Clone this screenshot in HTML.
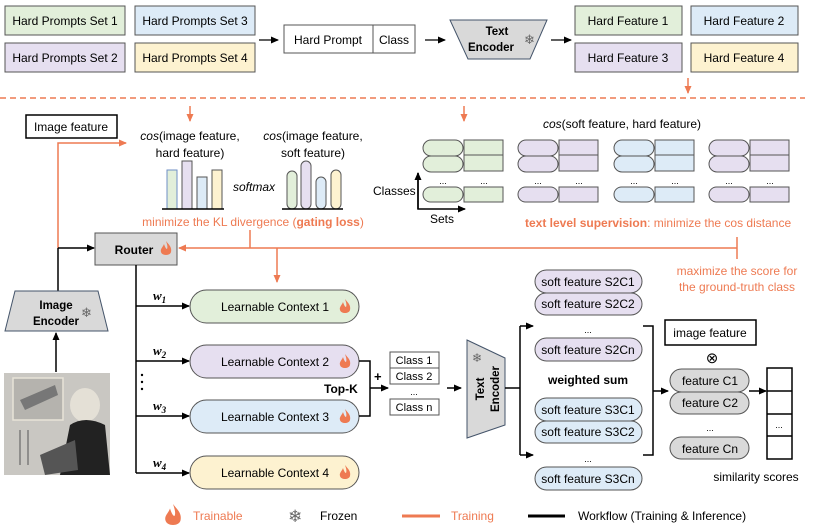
<!DOCTYPE html>
<html><head><meta charset="utf-8"><style>
html,body{margin:0;padding:0;background:#fff;}
svg{display:block;font-family:"Liberation Sans",sans-serif;}
</style></head><body>
<svg width="831" height="532" viewBox="0 0 831 532" xmlns="http://www.w3.org/2000/svg">
<defs>
<marker id="ab" markerWidth="8" markerHeight="8" refX="7" refY="4" orient="auto" markerUnits="userSpaceOnUse"><path d="M0,0.5 L8,4 L0,7.5z" fill="#000"/></marker>
<marker id="ao" markerWidth="8" markerHeight="8" refX="7" refY="4" orient="auto" markerUnits="userSpaceOnUse"><path d="M0,0.5 L8,4 L0,7.5z" fill="#ee7a52"/></marker>
<g id="fl"><path d="M0,-8 C3,-4 6,-2 5,3 C4,7 -4,7 -5,3 C-6,0 -3,-2 -2,-5 C-1,-2 0,0 1,0 C2,-2 1,-5 0,-8z" fill="#ee7a52"/></g>
</defs>
<g font-size="12" fill="#000">
<!-- top hard prompt sets -->
<g stroke="#555" stroke-width="1">
<rect x="5" y="6" width="120" height="29" fill="#e2efda"/>
<rect x="135" y="6" width="120" height="29" fill="#ddebf7"/>
<rect x="5" y="43" width="120" height="29" fill="#e6dff0"/>
<rect x="135" y="43" width="120" height="29" fill="#fdf2d0"/>
<rect x="575" y="6" width="107" height="29" fill="#e2efda"/>
<rect x="691" y="6" width="107" height="29" fill="#ddebf7"/>
<rect x="575" y="43" width="107" height="29" fill="#e6dff0"/>
<rect x="691" y="43" width="107" height="29" fill="#fdf2d0"/>
<rect x="284" y="25" width="131" height="28" fill="#fff"/>
<line x1="373" y1="25" x2="373" y2="53"/>
</g>
<text x="65" y="25" text-anchor="middle">Hard Prompts Set 1</text>
<text x="195" y="25" text-anchor="middle">Hard Prompts Set 3</text>
<text x="65" y="62" text-anchor="middle">Hard Prompts Set 2</text>
<text x="195" y="62" text-anchor="middle">Hard Prompts  Set 4</text>
<text x="628" y="25" text-anchor="middle">Hard Feature 1</text>
<text x="744" y="25" text-anchor="middle">Hard Feature 2</text>
<text x="628" y="62" text-anchor="middle">Hard Feature 3</text>
<text x="744" y="62" text-anchor="middle">Hard Feature 4</text>
<text x="328" y="44" text-anchor="middle">Hard Prompt</text>
<text x="394" y="44" text-anchor="middle">Class</text>
<g stroke="#000" stroke-width="1.3">
<line x1="259" y1="40" x2="278" y2="40" marker-end="url(#ab)"/>
<line x1="425" y1="40" x2="445" y2="40" marker-end="url(#ab)"/>
<line x1="551" y1="40" x2="571" y2="40" marker-end="url(#ab)"/>
</g>
<path d="M450,20 L547,20 L530,59 L468,59z" fill="#d9d9d9" stroke="#44546a"/>
<text x="497" y="35" text-anchor="middle" font-weight="bold" font-size="11.5">Text</text>
<text x="491" y="51" text-anchor="middle" font-weight="bold" font-size="11.5">Encoder</text>
<text x="524" y="44" font-size="13" fill="#666">❄</text>
<!-- dashed -->
<line x1="688" y1="78" x2="688" y2="93" stroke="#ee7a52" stroke-width="1.5" marker-end="url(#ao)"/>
<line x1="0" y1="98" x2="805" y2="98" stroke="#ee7a52" stroke-width="1.5" stroke-dasharray="6,4"/>
<line x1="190" y1="106" x2="190" y2="121" stroke="#ee7a52" stroke-width="1.5" marker-end="url(#ao)"/>
<line x1="464" y1="106" x2="464" y2="121" stroke="#ee7a52" stroke-width="1.5" marker-end="url(#ao)"/>
<!-- image feature -->
<rect x="26" y="115" width="91" height="23" fill="#fff" stroke="#000" stroke-width="1.5"/>
<text x="71" y="131" text-anchor="middle">Image feature</text>
<polyline points="58,248 58,143 126,143" fill="none" stroke="#ee7a52" stroke-width="1.5" marker-end="url(#ao)"/>
<text x="190" y="140" text-anchor="middle"><tspan font-style="italic">cos</tspan>(image feature,</text>
<text x="190" y="157" text-anchor="middle">hard feature)</text>
<text x="313" y="140" text-anchor="middle"><tspan font-style="italic">cos</tspan>(image feature,</text>
<text x="313" y="157" text-anchor="middle">soft feature)</text>
<g stroke-width="1">
<rect x="167" y="170" width="10" height="39" fill="#e2efda" stroke="#6f8fc6"/>
<rect x="182" y="161" width="10" height="48" fill="#e6dff0" stroke="#555"/>
<rect x="197" y="177" width="10" height="32" fill="#ddebf7" stroke="#555"/>
<rect x="212" y="170" width="10" height="39" fill="#fdf2d0" stroke="#555"/>
<rect x="287" y="171" width="10" height="38" rx="5" fill="#e2efda" stroke="#555"/>
<rect x="301" y="161" width="10" height="48" rx="5" fill="#e6dff0" stroke="#555"/>
<rect x="316" y="177" width="10" height="32" rx="5" fill="#ddebf7" stroke="#555"/>
<rect x="331" y="170" width="10" height="39" rx="5" fill="#fdf2d0" stroke="#555"/>
</g>
<line x1="162" y1="209" x2="224" y2="209" stroke="#000" stroke-width="1.5"/>
<line x1="282" y1="209" x2="343" y2="209" stroke="#000" stroke-width="1.5"/>
<text x="254" y="191" text-anchor="middle" font-style="italic">softmax</text>
<text x="253" y="226" text-anchor="middle" fill="#ee7a52">minimize the KL divergence (<tspan font-weight="bold">gating loss</tspan>)</text>
<!-- text level -->
<text x="622" y="128" text-anchor="middle"><tspan font-style="italic">cos</tspan>(soft feature, hard feature)</text>
<g stroke="#555" stroke-width="1">
<g>
<rect x="423" y="140" width="40" height="16" rx="8" fill="#e2efda"/><rect x="423" y="156" width="40" height="16" rx="8" fill="#e2efda"/>
<rect x="464" y="140" width="39" height="31" fill="#e2efda"/><line x1="464" y1="155" x2="503" y2="155"/>
<rect x="423" y="187" width="40" height="15" rx="7.5" fill="#e2efda"/><rect x="464" y="187" width="39" height="15" fill="#e2efda"/>
</g>
<g transform="translate(95,0)">
<rect x="423" y="140" width="40" height="16" rx="8" fill="#e6dff0"/><rect x="423" y="156" width="40" height="16" rx="8" fill="#e6dff0"/>
<rect x="464" y="140" width="39" height="31" fill="#e6dff0"/><line x1="464" y1="155" x2="503" y2="155"/>
<rect x="423" y="187" width="40" height="15" rx="7.5" fill="#e6dff0"/><rect x="464" y="187" width="39" height="15" fill="#e6dff0"/>
</g>
<g transform="translate(191,0)">
<rect x="423" y="140" width="40" height="16" rx="8" fill="#ddebf7"/><rect x="423" y="156" width="40" height="16" rx="8" fill="#ddebf7"/>
<rect x="464" y="140" width="39" height="31" fill="#ddebf7"/><line x1="464" y1="155" x2="503" y2="155"/>
<rect x="423" y="187" width="40" height="15" rx="7.5" fill="#ddebf7"/><rect x="464" y="187" width="39" height="15" fill="#ddebf7"/>
</g>
<g transform="translate(286,0)">
<rect x="423" y="140" width="40" height="16" rx="8" fill="#e6dff0"/><rect x="423" y="156" width="40" height="16" rx="8" fill="#e6dff0"/>
<rect x="464" y="140" width="39" height="31" fill="#e6dff0"/><line x1="464" y1="155" x2="503" y2="155"/>
<rect x="423" y="187" width="40" height="15" rx="7.5" fill="#e6dff0"/><rect x="464" y="187" width="39" height="15" fill="#e6dff0"/>
</g>
</g>
<g font-size="9" text-anchor="middle">
<text x="443" y="184">...</text><text x="484" y="184">...</text>
<text x="538" y="184">...</text><text x="579" y="184">...</text>
<text x="634" y="184">...</text><text x="675" y="184">...</text>
<text x="729" y="184">...</text><text x="770" y="184">...</text>
</g>
<polyline points="418,173 418,209 465,209" fill="none" stroke="#000" stroke-width="1.5" marker-end="url(#ab)"/>
<line x1="418" y1="209" x2="418" y2="173" stroke="#000" stroke-width="1.5" marker-end="url(#ab)"/>
<text x="373" y="195">Classes</text>
<text x="430" y="223">Sets</text>
<text x="525" y="227" fill="#ee7a52"><tspan font-weight="bold">text level supervision</tspan>: minimize the cos distance</text>
<!-- router -->
<rect x="95" y="233" width="82" height="32" fill="#d9d9d9" stroke="#555"/>
<text x="134" y="254" text-anchor="middle" font-weight="bold">Router</text>
<use href="#fl" x="166" y="249"/>
<line x1="58" y1="248" x2="58" y2="291" stroke="#000" stroke-width="1.5"/>
<line x1="58" y1="248" x2="94" y2="248" stroke="#000" stroke-width="1.5" marker-end="url(#ab)"/>
<line x1="737" y1="248" x2="179" y2="248" stroke="#ee7a52" stroke-width="1.5" marker-end="url(#ao)"/>
<line x1="737" y1="237" x2="737" y2="259" stroke="#ee7a52" stroke-width="1.5"/>
<line x1="250" y1="230" x2="250" y2="248" stroke="#ee7a52" stroke-width="1.5"/>
<line x1="277" y1="248" x2="277" y2="282" stroke="#ee7a52" stroke-width="1.5" marker-end="url(#ao)"/>
<text x="737" y="275" text-anchor="middle" fill="#ee7a52">maximize the score for</text>
<text x="737" y="291" text-anchor="middle" fill="#ee7a52">the ground-truth class</text>
<!-- router branches -->
<g stroke="#000" stroke-width="1.5" fill="none">
<line x1="136" y1="265" x2="136" y2="473"/>
<line x1="136" y1="306" x2="189" y2="306" marker-end="url(#ab)"/>
<line x1="136" y1="361" x2="189" y2="361" marker-end="url(#ab)"/>
<line x1="136" y1="416" x2="189" y2="416" marker-end="url(#ab)"/>
<line x1="136" y1="473" x2="189" y2="473" marker-end="url(#ab)"/>
</g>
<g font-family="Liberation Serif,serif" font-weight="bold" font-style="italic" font-size="13">
<text x="153" y="300">w<tspan font-size="9" dy="3">1</tspan></text>
<text x="153" y="355">w<tspan font-size="9" dy="3">2</tspan></text>
<text x="153" y="410">w<tspan font-size="9" dy="3">3</tspan></text>
<text x="153" y="467">w<tspan font-size="9" dy="3">4</tspan></text>
</g>
<circle cx="142" cy="375" r="1.2"/><circle cx="142" cy="382" r="1.2"/><circle cx="142" cy="389" r="1.2"/>
<g stroke="#555">
<rect x="190" y="290" width="169" height="33" rx="16.5" fill="#e2efda"/>
<rect x="190" y="345" width="169" height="33" rx="16.5" fill="#e6dff0"/>
<rect x="190" y="400" width="169" height="33" rx="16.5" fill="#ddebf7"/>
<rect x="190" y="456" width="169" height="33" rx="16.5" fill="#fdf2d0"/>
</g>
<text x="275" y="311" text-anchor="middle">Learnable Context 1</text>
<text x="275" y="366" text-anchor="middle">Learnable Context 2</text>
<text x="275" y="421" text-anchor="middle">Learnable Context 3</text>
<text x="275" y="477" text-anchor="middle">Learnable Context 4</text>
<use href="#fl" x="345" y="307"/><use href="#fl" x="345" y="362"/><use href="#fl" x="345" y="417"/><use href="#fl" x="345" y="473"/>
<!-- image encoder -->
<path d="M15,291 L98,291 L108,331 L5,331z" fill="#d9d9d9" stroke="#44546a"/>
<text x="56" y="309" text-anchor="middle" font-weight="bold" font-size="11.5">Image</text>
<text x="56" y="325" text-anchor="middle" font-weight="bold" font-size="11.5">Encoder</text>
<text x="81" y="317" font-size="13" fill="#666">❄</text>
<line x1="56" y1="372" x2="56" y2="333" stroke="#000" stroke-width="1.5" marker-end="url(#ab)"/>
<!-- photo -->
<rect x="4" y="373" width="106" height="102" fill="#c9c7c2"/>
<rect x="13" y="378" width="50" height="42" fill="#b5b3ae" stroke="#e8e4d8" stroke-width="1.5"/>
<path d="M20,400 L55,385 L58,395 L25,410z" fill="#777"/>
<ellipse cx="85" cy="405" rx="15" ry="17" fill="#e4e0d6"/>
<path d="M70,425 Q85,415 105,425 L110,475 L60,475z" fill="#222"/>
<path d="M40,455 L75,440 L78,470 L45,475z" fill="#555"/>
<line x1="20" y1="430" x2="20" y2="465" stroke="#555"/><line x1="28" y1="430" x2="28" y2="465" stroke="#555"/>
<!-- top-k -->
<polyline points="359,361 370,361 370,416 359,416" fill="none" stroke="#000" stroke-width="1.5"/>
<line x1="370" y1="388" x2="388" y2="388" stroke="#000" stroke-width="1.5" marker-end="url(#ab)"/>
<text x="374" y="381" font-weight="bold" font-size="13">+</text>
<text x="324" y="393" font-weight="bold">Top-K</text>
<g stroke="#555" fill="#fff">
<rect x="390" y="352" width="49" height="16"/><rect x="390" y="368" width="49" height="16"/><rect x="390" y="399" width="49" height="16"/>
</g>
<g font-size="11" text-anchor="middle">
<text x="414" y="364">Class 1</text><text x="414" y="380">Class 2</text><text x="414" y="395" font-size="9">...</text><text x="414" y="411">Class n</text>
</g>
<line x1="447" y1="388" x2="461" y2="388" stroke="#000" stroke-width="1.5" marker-end="url(#ab)"/>
<path d="M467,340 L505,358 L505,425 L467,438z" fill="#d9d9d9" stroke="#44546a"/>
<text transform="translate(484,389) rotate(-90)" text-anchor="middle" font-weight="bold" font-size="11.5">Text</text>
<text transform="translate(499,389) rotate(-90)" text-anchor="middle" font-weight="bold" font-size="11.5">Encoder</text>
<text x="472" y="362" font-size="12" fill="#666">❄</text>
<g stroke="#000" stroke-width="1.5" fill="none">
<line x1="505" y1="388" x2="520" y2="388"/>
<line x1="520" y1="326" x2="520" y2="455"/>
<line x1="520" y1="326" x2="533" y2="326" marker-end="url(#ab)"/>
<line x1="520" y1="455" x2="533" y2="455" marker-end="url(#ab)"/>
<polyline points="643,326 653,326 653,455 643,455"/>
<line x1="653" y1="391" x2="668" y2="391" marker-end="url(#ab)"/>
<line x1="749" y1="391" x2="766" y2="391" marker-end="url(#ab)"/>
</g>
<g stroke="#555">
<rect x="535" y="270" width="107" height="23" rx="11.5" fill="#e6dff0"/>
<rect x="535" y="293" width="107" height="22" rx="11" fill="#e6dff0"/>
<rect x="535" y="338" width="107" height="23" rx="11.5" fill="#e6dff0"/>
<rect x="535" y="398" width="107" height="23" rx="11.5" fill="#ddebf7"/>
<rect x="535" y="421" width="107" height="22" rx="11" fill="#ddebf7"/>
<rect x="535" y="467" width="107" height="23" rx="11.5" fill="#ddebf7"/>
<rect x="670" y="369" width="79" height="23" rx="11.5" fill="#d9d9d9"/>
<rect x="670" y="392" width="79" height="22" rx="11" fill="#d9d9d9"/>
<rect x="670" y="437" width="79" height="22" rx="11" fill="#d9d9d9"/>
</g>
<g text-anchor="middle">
<text x="588" y="286">soft feature S2C1</text>
<text x="588" y="308">soft feature S2C2</text>
<text x="588" y="333" font-size="9">...</text>
<text x="588" y="354">soft feature S2Cn</text>
<text x="588" y="384" font-weight="bold">weighted sum</text>
<text x="588" y="414">soft feature S3C1</text>
<text x="588" y="436">soft feature S3C2</text>
<text x="588" y="462" font-size="9">...</text>
<text x="588" y="483">soft feature S3Cn</text>
<text x="710" y="385">feature C1</text>
<text x="710" y="407">feature C2</text>
<text x="710" y="431" font-size="9">...</text>
<text x="710" y="453">feature Cn</text>
</g>
<rect x="665" y="320" width="91" height="25" fill="#fff" stroke="#000" stroke-width="1.5"/>
<text x="710" y="337" text-anchor="middle">image feature</text>
<text x="712" y="363" text-anchor="middle" font-size="15">⊗</text>
<g stroke="#000" stroke-width="1.5" fill="#fff">
<rect x="767" y="368" width="25" height="91"/>
<line x1="767" y1="391" x2="792" y2="391"/><line x1="767" y1="414" x2="792" y2="414"/><line x1="767" y1="436" x2="792" y2="436"/>
</g>
<text x="779" y="428" text-anchor="middle" font-size="9">...</text>
<text x="756" y="481" text-anchor="middle">similarity scores</text>
<!-- legend -->
<g transform="translate(173,516) scale(1.5)"><use href="#fl"/></g>
<text x="193" y="520" fill="#ee7a52">Trainable</text>
<text x="288" y="522" font-size="17" fill="#666">❄</text>
<text x="320" y="520">Frozen</text>
<line x1="402" y1="516" x2="440" y2="516" stroke="#ee7a52" stroke-width="3"/>
<text x="451" y="520" fill="#ee7a52">Training</text>
<line x1="528" y1="516" x2="565" y2="516" stroke="#000" stroke-width="3"/>
<text x="578" y="520">Workflow (Training &amp; Inference)</text>
</g>
</svg>
</body></html>
